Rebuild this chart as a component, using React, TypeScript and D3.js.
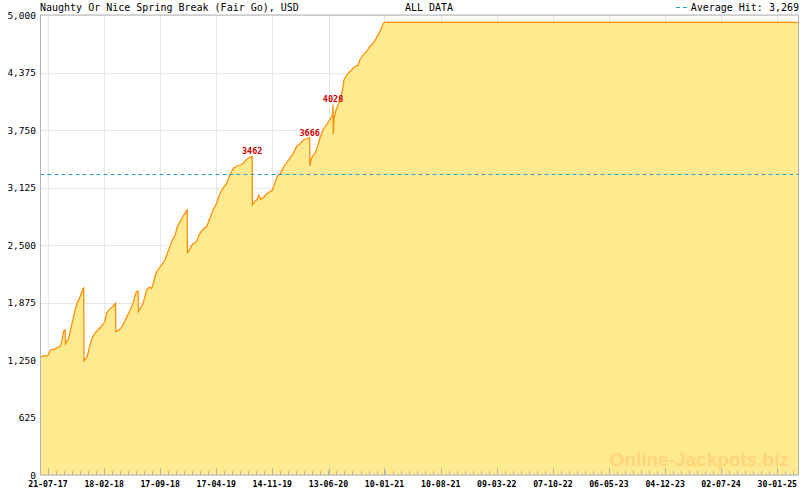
import React from "react";
import * as d3 from "d3";

const title = "Naughty Or Nice Spring Break (Fair Go), USD";
const subtitle = "ALL DATA";
const averageHit = 3269;

const dates: string[] = [
  "2017-06-23","2017-07-02","2017-07-21","2017-07-31","2017-08-15","2017-08-27","2017-09-06","2017-09-11","2017-09-19","2017-09-24",
  "2017-09-25","2017-10-07","2017-10-17","2017-10-23","2017-10-30","2017-11-08","2017-11-17","2017-11-23","2017-12-03","2017-12-04",
  "2017-12-16","2017-12-25","2018-01-03","2018-01-13","2018-01-25","2018-02-07","2018-02-20","2018-02-28","2018-03-10","2018-03-23",
  "2018-04-02","2018-04-03","2018-04-18","2018-04-30","2018-05-14","2018-05-26","2018-06-07","2018-06-14","2018-06-20","2018-06-26",
  "2018-06-27","2018-07-05","2018-07-15","2018-07-28","2018-08-07","2018-08-16","2018-08-22","2018-09-01","2018-09-10","2018-09-23",
  "2018-10-05","2018-10-14","2018-10-24","2018-11-02","2018-11-12","2018-11-21","2018-12-01","2018-12-13","2018-12-22","2018-12-28",
  "2018-12-29","2019-01-07","2019-01-17","2019-02-01","2019-02-14","2019-02-26","2019-03-13","2019-03-21","2019-04-05","2019-04-18",
  "2019-04-28","2019-05-11","2019-05-26","2019-06-07","2019-06-20","2019-07-03","2019-07-18","2019-07-30","2019-08-09","2019-08-22",
  "2019-08-30","2019-08-31","2019-09-09","2019-09-18","2019-09-24","2019-10-01","2019-10-13","2019-10-23","2019-11-05","2019-11-15",
  "2019-11-23","2019-12-02","2019-12-15","2019-12-27","2020-01-09","2020-01-19","2020-02-01","2020-02-13","2020-02-28","2020-03-11",
  "2020-03-24","2020-04-03","2020-04-04","2020-04-09","2020-04-15","2020-04-26","2020-05-04","2020-05-13","2020-05-23","2020-06-05",
  "2020-06-17","2020-06-28","2020-06-30","2020-07-01","2020-07-04","2020-07-11","2020-07-19","2020-07-28","2020-08-05","2020-08-10",
  "2020-08-17","2020-08-26","2020-09-08","2020-09-20","2020-10-03","2020-10-09","2020-10-21","2020-11-03","2020-11-15","2020-11-28",
  "2020-12-10","2020-12-20","2020-12-29","2021-01-07","2021-01-11","2025-04-20"
];

const values: number[] = [
  1279,1293,1300,1359,1366,1388,1402,1449,1568,1576,
  1424,1486,1612,1685,1775,1866,1920,1967,2040,1240,
  1286,1395,1486,1540,1576,1612,1666,1764,1801,1829,
  1866,1558,1584,1630,1721,1786,1866,1946,1993,2000,
  1775,1811,1866,2011,2040,2029,2083,2192,2236,2283,
  2337,2410,2482,2554,2598,2699,2753,2815,2851,2888,
  2416,2453,2508,2536,2627,2671,2706,2772,2880,2953,
  3043,3116,3170,3261,3333,3359,3370,3395,3431,3453,
  3462,2935,2971,2996,3043,2996,3018,3054,3080,3098,
  3170,3243,3279,3351,3405,3442,3496,3568,3604,3641,
  3660,3666,3359,3442,3467,3514,3587,3677,3750,3804,
  3859,3913,4028,3707,3880,3967,4022,4094,4185,4293,
  4329,4366,4402,4438,4457,4511,4565,4601,4655,4692,
  4746,4801,4855,4917,4920,4920
];

const peakDates: string[] = ["2019-08-30", "2020-04-03", "2020-06-30"];
const peakValues: number[] = [3462, 3666, 4028];

const xTickLabels: string[] = [
  "21-07-17","18-02-18","17-09-18","17-04-19","14-11-19","13-06-20","10-01-21",
  "10-08-21","09-03-22","07-10-22","06-05-23","04-12-23","02-07-24","30-01-25"
];
const yTicks: number[] = [0, 625, 1250, 1875, 2500, 3125, 3750, 4375, 5000];
const xDomain: string[] = ["2017-06-23", "2025-04-20"];

const W = 800, H = 490;
const L = 40.5, R = 798.5, T = 15, B = 475;
const mono = "'DejaVu Sans Mono', monospace";

export default function App() {
  const parse = d3.timeParse("%Y-%m-%d");
  const parseTick = d3.timeParse("%d-%m-%y");
  const data = dates.map((d, i) => ({ date: parse(d) as Date, value: values[i] }));
  const x = d3.scaleTime().domain(xDomain.map((d) => parse(d) as Date)).range([L, R]);
  const y = d3.scaleLinear().domain([0, 5000]).range([B, T]);

  const line = d3.line<{ date: Date; value: number }>()
    .x((d) => x(d.date)).y((d) => y(d.value));
  const areaLin = d3.area<{ date: Date; value: number }>()
    .x((d) => x(d.date)).y0(B).y1((d) => y(d.value));

  const majors = xTickLabels.map((t) => x(parseTick(t) as Date));
  const step = (majors[majors.length - 1] - majors[0]) / (majors.length - 1) / 7;
  const minors: number[] = [];
  for (let p = majors[0]; p > L; p -= step) minors.push(p);
  for (let p = majors[0] + step; p < R; p += step) minors.push(p);
  const fmt = d3.format(",");

  return (
    <div style={{ position: "fixed", left: 0, top: 0 }}>
      <svg width={W} height={H} style={{ display: "block", background: "#fff" }}>
        {yTicks.map((t) => (
          <line key={"gy" + t} x1={L} x2={R} y1={Math.round(y(t)) + 0.5} y2={Math.round(y(t)) + 0.5} stroke="#e6e6e6" />
        ))}
        {majors.map((p, i) => (
          <line key={"gx" + i} x1={Math.round(p) + 0.5} x2={Math.round(p) + 0.5} y1={T} y2={B} stroke="#e6e6e6" />
        ))}
        <path d={areaLin(data) || ""} fill="#ffea90" />
        <text x={789} y={466} textAnchor="end" fontFamily="'Liberation Sans', Arial, sans-serif" fontWeight="bold"
          fontSize={19} fill="#ffd47c">Online-Jackpots.biz</text>
        <path d={line(data) || ""} fill="none" stroke="#ff8a00" strokeWidth={1.2} />
        <line x1={L} x2={R} y1={Math.round(y(averageHit)) + 0.5} y2={Math.round(y(averageHit)) + 0.5}
          stroke="#2a9fd8" strokeDasharray="4,3" />
        {peakDates.map((d, i) => (
          <text key={"pk" + i} x={x(parse(d) as Date)} y={y(peakValues[i]) - 2} fill="#cc0000"
            fontFamily={mono} fontSize={8.5} fontWeight="bold" textAnchor="middle">{peakValues[i]}</text>
        ))}
        <rect x={L} y={T} width={R - L} height={B - T} fill="none" stroke="#b4b4b4" />
        {minors.map((p, i) => (
          <line key={"mt" + i} x1={Math.round(p) + 0.5} x2={Math.round(p) + 0.5} y1={B} y2={B - 4} stroke="#b4b4b4" />
        ))}
        {majors.map((p, i) => (
          <line key={"Mt" + i} x1={Math.round(p) + 0.5} x2={Math.round(p) + 0.5} y1={B} y2={B - 7} stroke="#b4b4b4" />
        ))}
        {yTicks.map((t) => (
          <text key={"yl" + t} x={36} y={y(t) + 3.5} textAnchor="end" fontFamily={mono} fontSize={9.5} fill="#000">
            {fmt(t)}
          </text>
        ))}
        {xTickLabels.map((t, i) => (
          <text key={"xl" + t} x={majors[i]} y={487} textAnchor="middle" fontFamily={mono} fontSize={8.2} fontWeight="bold" fill="#000">
            {t}
          </text>
        ))}
        <text x={40} y={11} fontFamily={mono} fontSize={10} fill="#000">{title}</text>
        <text x={429} y={11} fontFamily={mono} fontSize={10} fill="#000" textAnchor="middle">{subtitle}</text>
        <line x1={676} x2={689} y1={7.5} y2={7.5} stroke="#2a9fd8" strokeDasharray="4,3" />
        <text x={799} y={11} fontFamily={mono} fontSize={10} fill="#000" textAnchor="end">
          {"Average Hit: " + fmt(averageHit)}
        </text>
      </svg>
    </div>
  );
}
